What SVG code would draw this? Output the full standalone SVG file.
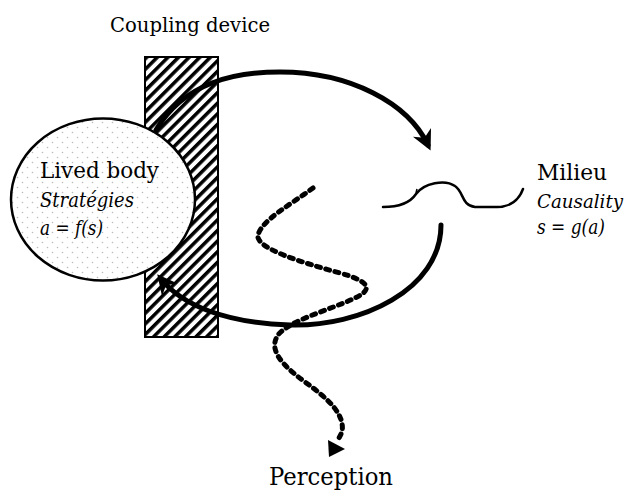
<svg xmlns="http://www.w3.org/2000/svg" width="631" height="491" viewBox="0 0 631 491">
<style>
text{fill:#000;font-family:'DejaVu Serif',serif}
.it{font-style:italic}
.conn{fill:none;stroke:#000;stroke-linecap:round}
</style>
<defs>
<pattern id="hatch" patternUnits="userSpaceOnUse" width="7.5" height="10" patternTransform="rotate(45)">
<rect width="7.5" height="10" fill="#fff"/>
<rect width="3.5" height="10" fill="#000"/>
</pattern>
<pattern id="dots" patternUnits="userSpaceOnUse" width="10" height="10">
<rect width="10" height="10" fill="#fff"/>
<circle cx="2.5" cy="2.5" r="0.8" fill="#bbb"/>
<circle cx="7.5" cy="7.5" r="0.8" fill="#bbb"/>
</pattern>
<marker id="stealth" markerUnits="userSpaceOnUse" viewBox="-16 -11 24 22" markerWidth="24" markerHeight="22" refX="0" refY="0" orient="auto">
<path d="M6,0 L-14,-10 L-8,0 L-14,10 Z" fill="#000"/>
</marker>
</defs>
<rect width="631" height="491" fill="#fff"/>

<g id="coupling-device">
<rect x="145" y="57" width="73" height="280" fill="url(#hatch)" stroke="#000" stroke-width="2"/>
<text x="110" y="32" font-size="21" textLength="160" lengthAdjust="spacingAndGlyphs">Coupling device</text>
</g>

<g id="lived-body">
<ellipse cx="103" cy="199.5" rx="92" ry="81" fill="url(#dots)" stroke="#000" stroke-width="2.5"/>
<text x="40" y="178" font-size="23" textLength="119" lengthAdjust="spacingAndGlyphs">Lived body</text>
<text class="it" x="40" y="207" font-size="21" textLength="94" lengthAdjust="spacingAndGlyphs">Stratégies</text>
<text class="it" x="40" y="235" font-size="21" textLength="63" lengthAdjust="spacingAndGlyphs">a = f(s)</text>
</g>

<g id="milieu">
<path d="M383,207 C398,207 410,203 416,194 C424,183 445,179 455,186 C464,192 461,205 475,207 L497,207 C510,207 519,200 523,189" fill="none" stroke="#000" stroke-width="2.5" stroke-linecap="round"/>
<path d="M416,193 l1,-4" fill="none" stroke="#000" stroke-width="1.5"/>
<text x="537" y="180" font-size="23" textLength="70" lengthAdjust="spacingAndGlyphs">Milieu</text>
<text class="it" x="537" y="208" font-size="19" textLength="86" lengthAdjust="spacingAndGlyphs">Causality</text>
<text class="it" x="537" y="234" font-size="21" textLength="68" lengthAdjust="spacingAndGlyphs">s = g(a)</text>
</g>

<g id="perception">
<text x="269" y="485" font-size="25" textLength="124" lengthAdjust="spacingAndGlyphs">Perception</text>
</g>

<g id="connectors">
<path class="conn" d="M156,130 C185,82 235,72 280,72 C350,72 408,103 428,145" stroke-width="5" marker-end="url(#stealth)"/>
<path class="conn" d="M441,225 C441,290 360,327 290,325 C225,323 182,305 161,279" stroke-width="5" marker-end="url(#stealth)"/>
<path class="conn" d="M313,188 C290,205 262,220 258,235 C255,248 300,262 340,273 C372,282 372,290 355,298 C330,310 290,320 278,335 C268,350 282,365 305,382 C330,400 345,415 342,432 L338,440" stroke-width="5" stroke-linecap="butt" stroke-dasharray="4 5.5"/>
<polygon points="328,440 345,449 329,457" fill="#000"/>
</g>
</svg>
